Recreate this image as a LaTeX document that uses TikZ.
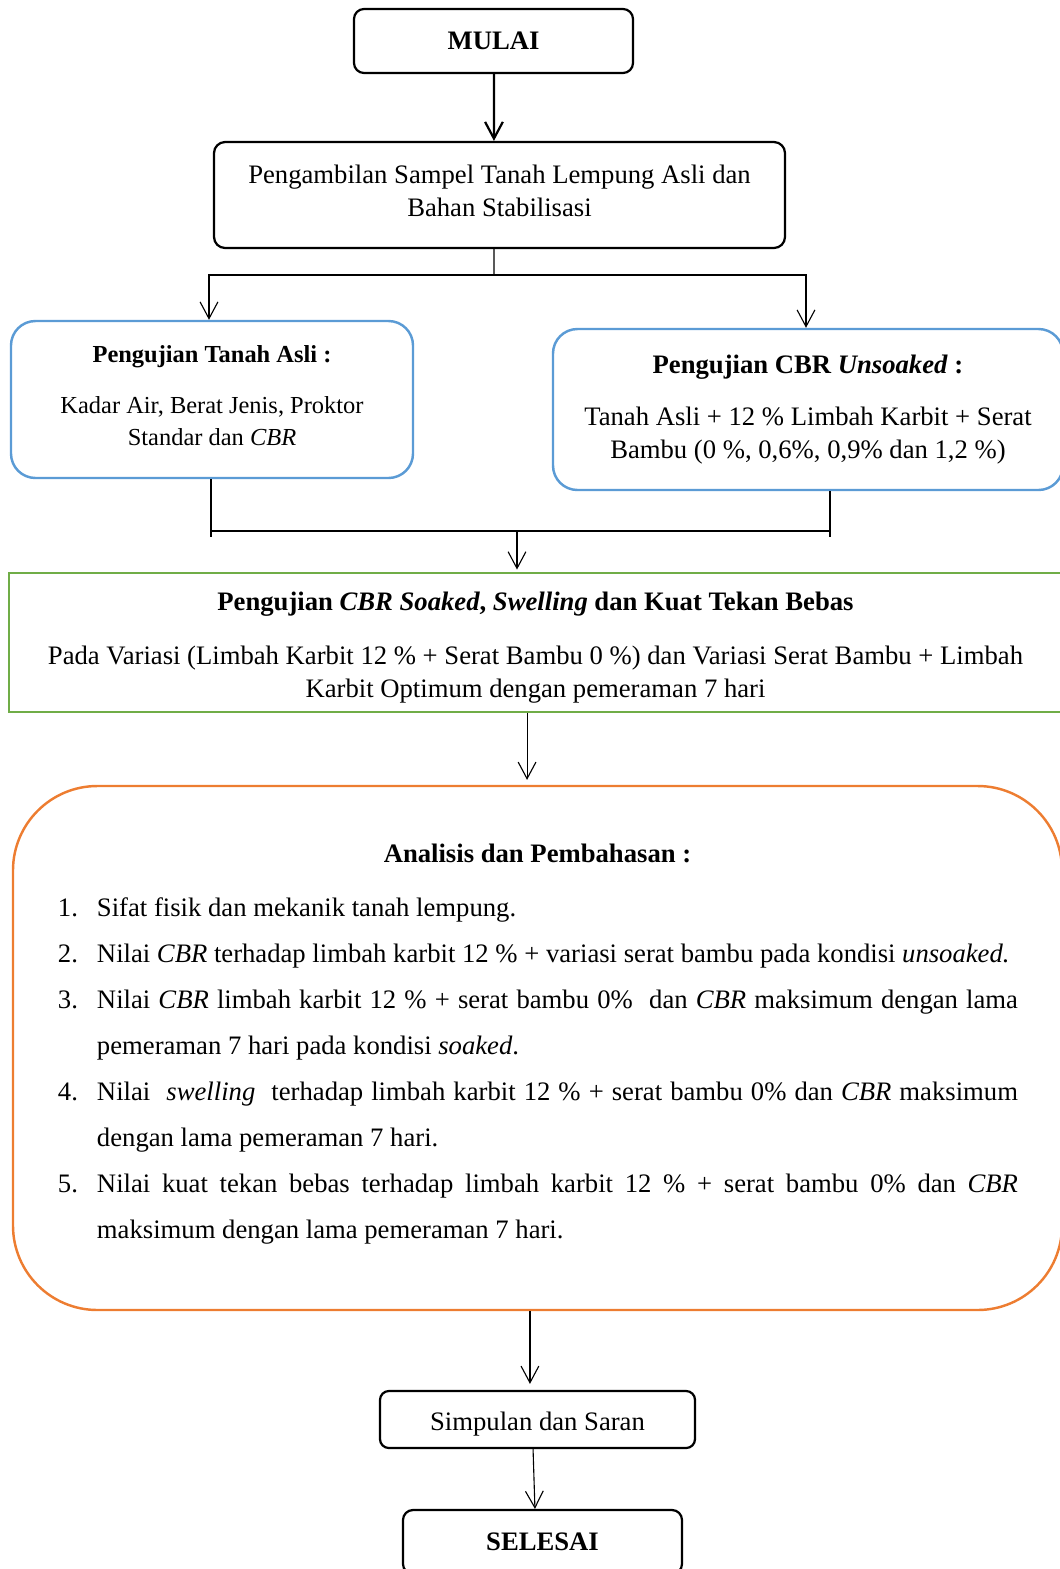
\documentclass[tikz,border=0pt]{standalone}
\usepackage{fontspec}
\setmainfont{Liberation Serif}
\usetikzlibrary{positioning, arrows.meta}

\definecolor{boxblue}{HTML}{5B9BD5}
\definecolor{boxgreen}{HTML}{70AD47}
\definecolor{boxorange}{HTML}{ED7D31}

\newenvironment{anlist}{%
  \begin{list}{\arabic{enumi}.}{\usecounter{enumi}%
    \setlength{\leftmargin}{18pt}\setlength{\labelsep}{8.55pt}%
    \setlength{\labelwidth}{9.45pt}\setlength{\rightmargin}{0pt}%
    \setlength{\itemsep}{0pt}\setlength{\parsep}{0pt}%
    \setlength{\topsep}{0pt}\setlength{\partopsep}{0pt}}}%
  {\end{list}}

\begin{document}
\begin{tikzpicture}[x=0.45pt, y=-0.45pt,
  every node/.style={font=\fontsize{12}{14.8}\selectfont, align=center, inner sep=2pt},
  term/.style={draw, line width=1pt, rounded corners=4.5pt,
    minimum width=125.55pt, minimum height=28.8pt,
    font=\fontsize{12}{14.8}\selectfont\bfseries},
  proc/.style={draw, line width=1pt, rounded corners=5pt},
  testbox/.style={draw=boxblue, line width=1.1pt, rounded corners=11pt},
  arrow/.style={-{Straight Barb[length=7.5pt, width=8pt]}, line width=0.5pt},
  link/.style={line width=0.5pt}
]
\useasboundingbox (0,0) rectangle (1059,1569);

% start
\node[term] (mulai) at (493.5,41) {MULAI};
\node[proc, minimum width=256.95pt, minimum height=47.7pt] (ambil) at (499.5,195)
  {Pengambilan Sampel Tanah Lempung Asli dan\\ Bahan Stabilisasi\rule[-3.6pt]{0pt}{0pt}};

% tests on the soil
\node[testbox, minimum width=180.9pt, minimum height=70.65pt,
      font=\fontsize{11}{14.4}\selectfont] (asli) at (212,399.5)
  {{\bfseries Pengujian Tanah Asli :}\\[8.5pt]
   Kadar Air, Berat Jenis, Proktor\\ Standar dan \textit{CBR}\rule[-3.6pt]{0pt}{0pt}};
\node[testbox, minimum width=229.5pt, minimum height=72.45pt] (unsoak) at (808,409.5)
  {{\bfseries Pengujian CBR \textit{Unsoaked} :}\\[9pt]
   Tanah Asli + 12 \% Limbah Karbit + Serat\\ Bambu (0 \%, 0,6\%, 0,9\% dan 1,2 \%)};

\node[draw=boxgreen, line width=1.1pt, minimum width=473.85pt, minimum height=62.55pt]
  (uji) at (535.5,642.5)
  {\rule{0pt}{12.8pt}{\bfseries Pengujian \textit{CBR Soaked}, \textit{Swelling} dan Kuat Tekan Bebas}\\[9.5pt]
   Pada Variasi (Limbah Karbit 12 \% + Serat Bambu 0 \%) dan Variasi Serat Bambu + Limbah\\
   Karbit Optimum dengan pemeraman 7 hari};

% analysis
\node[draw=boxorange, line width=1.1pt, rounded corners=38pt,
      minimum width=472.05pt, minimum height=235.8pt, text width=432.45pt, align=justify,
      font=\fontsize{12}{20.7}\selectfont]
  (analisis) at (537.5,1048)
  {\hyphenpenalty=10000\relax\exhyphenpenalty=10000\relax
   {\centering\bfseries Analisis dan Pembahasan :\par}\vspace{3.6pt}
   \begin{anlist}
   \item Sifat fisik dan mekanik tanah lempung.
   \item Nilai \textit{CBR} terhadap limbah karbit 12 \% + variasi serat bambu pada kondisi \textit{unsoaked.}
   \item Nilai \textit{CBR} limbah karbit 12 \% + serat bambu 0\% \ dan \textit{CBR} maksimum dengan lama\linebreak
     pemeraman 7 hari pada kondisi \textit{soaked}.
   \item Nilai \ \textit{swelling} \ terhadap limbah karbit 12 \% + serat bambu 0\% dan \textit{CBR} maksimum\linebreak
     dengan lama pemeraman 7 hari.
   \item Nilai kuat tekan bebas terhadap limbah karbit 12 \% + serat bambu 0\% dan \textit{CBR}\linebreak
     maksimum dengan lama pemeraman 7 hari.\rule[-6.2pt]{0pt}{0pt}
   \end{anlist}};

% end
\node[proc, rounded corners=4pt, minimum width=141.75pt, minimum height=25.65pt]
  (simpul) at (537.5,1419.5) {\rule{0pt}{12.8pt}Simpulan dan Saran};
\node[term] (selesai) at (542.5,1542) {SELESAI};

% connectors
\coordinate (fork) at (494,275);
\coordinate (joinL) at (211,537);
\coordinate (joinR) at (830,537);
\coordinate (join) at (517,531);

\draw[arrow, line width=1pt] ([xshift=0.2pt]mulai.south) -- ([xshift=-2.5pt]ambil.north);
\draw[link] ([xshift=-2.5pt]ambil.south) -- (fork);
\draw[arrow] (fork) -| ([xshift=-1.35pt]asli.north);
\draw[arrow] (fork) -| ([xshift=-0.9pt]unsoak.north);
\draw[link] (joinL |- asli.south) -- (joinL);
\draw[link] (joinR |- unsoak.south) -- (joinR);
\draw[link] (joinL |- join) -- (joinR |- join);
\draw[arrow, shorten >=1pt] (join) -- (join |- uji.north);
\draw[arrow, shorten >=2.2pt] ([xshift=-3.8pt]uji.south) -- ([xshift=-4.7pt]analisis.north);
\draw[arrow, shorten >=2.7pt] ([xshift=-3.4pt]analisis.south) -- ([xshift=-3.4pt]simpul.north);
\draw[arrow] ([xshift=-2pt]simpul.south) -- ([xshift=-3.4pt]selesai.north);
\end{tikzpicture}
\end{document}
